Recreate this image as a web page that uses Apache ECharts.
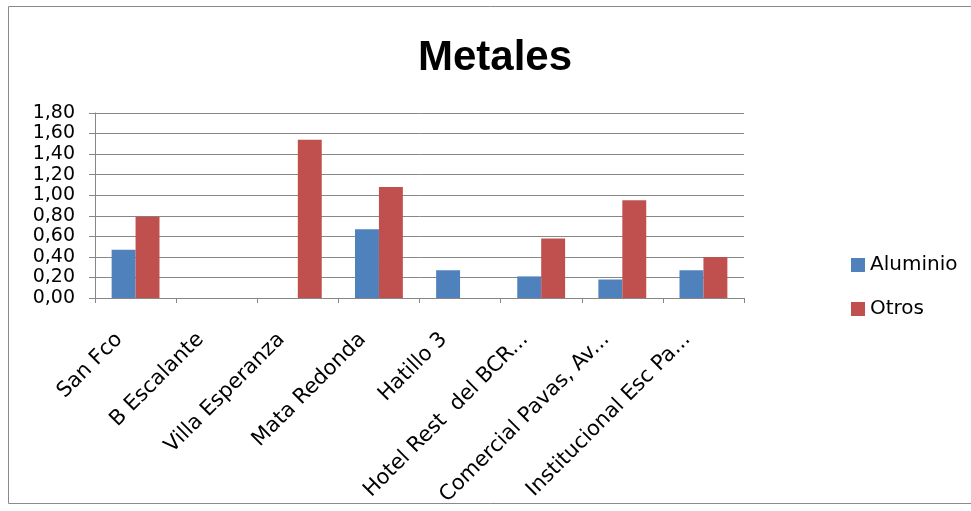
<!DOCTYPE html>
<html>
<head>
<meta charset="utf-8">
<title>Metales</title>
<script src="https://cdn.jsdelivr.net/npm/echarts@6/dist/echarts.min.js"></script>
<style>
  html, body { margin: 0; padding: 0; background: #ffffff; }
  #chart { width: 971px; height: 511px; }
</style>
</head>
<body>
<div id="chart"></div>
<script>
// Categories (locations) along the x axis
var categories = [
  'San Fco',
  'B Escalante',
  'Villa Esperanza',
  'Mata Redonda',
  'Hatillo 3',
  'Hotel Rest  del BCR...',
  'Comercial Pavas, Av...',
  'Institucional Esc Pa...'
];

// Series values
var aluminio = [0.47, 0, 0, 0.67, 0.27, 0.21, 0.18, 0.27];
var otros    = [0.79, 0, 1.54, 1.08, 0, 0.58, 0.95, 0.40];

// Value axis range
var yMin = 0;
var yMax = 1.8;
var yStep = 0.2;

var axisGray = '#878787';
var labelFont = 'DejaVu Sans';

var chart = echarts.init(document.getElementById('chart'), null, { renderer: 'canvas' });

chart.setOption({
  backgroundColor: '#ffffff',
  animation: false,
  title: {
    text: 'Metales',
    left: 490,
    textAlign: 'center',
    top: 32,
    textStyle: {
      fontFamily: 'Liberation Sans',
      fontWeight: 'bold',
      fontSize: 42,
      color: '#000000'
    }
  },
  graphic: [{
    type: 'rect',
    silent: true,
    z: -1,
    shape: { x: 8.5, y: 6.5, width: 975, height: 497 },
    style: { fill: 'none', stroke: '#8a8a8a', lineWidth: 1 }
  }],
  legend: {
    orient: 'vertical',
    left: 846,
    top: 250,
    itemWidth: 14,
    itemHeight: 14,
    itemGap: 24,
    icon: 'rect',
    textStyle: {
      fontFamily: labelFont,
      fontSize: 20,
      color: '#000000'
    },
    data: ['Aluminio', 'Otros']
  },
  grid: {
    left: 95,
    right: 227,
    top: 113,
    bottom: 213,
    containLabel: false
  },
  xAxis: {
    type: 'category',
    data: categories,
    axisLine: { show: true, lineStyle: { color: axisGray, width: 1 } },
    axisTick: { show: true, alignWithLabel: false, length: 5, lineStyle: { color: axisGray } },
    axisLabel: {
      interval: 0,
      rotate: 45,
      margin: 22,
      padding: [0, 23, 0, 0],
      fontFamily: labelFont,
      fontSize: 21,
      color: '#000000'
    }
  },
  yAxis: {
    type: 'value',
    min: yMin,
    max: yMax,
    interval: yStep,
    axisLine: { show: true, lineStyle: { color: axisGray, width: 1 } },
    axisTick: { show: true, length: 6, lineStyle: { color: axisGray } },
    splitLine: { show: true, lineStyle: { color: axisGray, width: 1 } },
    axisLabel: {
      margin: 20,
      fontFamily: labelFont,
      fontSize: 19,
      color: '#000000',
      formatter: function (v) { return v.toFixed(2).replace('.', ','); }
    }
  },
  series: [
    {
      name: 'Aluminio',
      type: 'bar',
      data: aluminio,
      barGap: '0%',
      barCategoryGap: '41%',
      itemStyle: { color: '#4F81BD' }
    },
    {
      name: 'Otros',
      type: 'bar',
      data: otros,
      barGap: '0%',
      barCategoryGap: '41%',
      itemStyle: { color: '#C0504D' }
    }
  ]
});
</script>
</body>
</html>
